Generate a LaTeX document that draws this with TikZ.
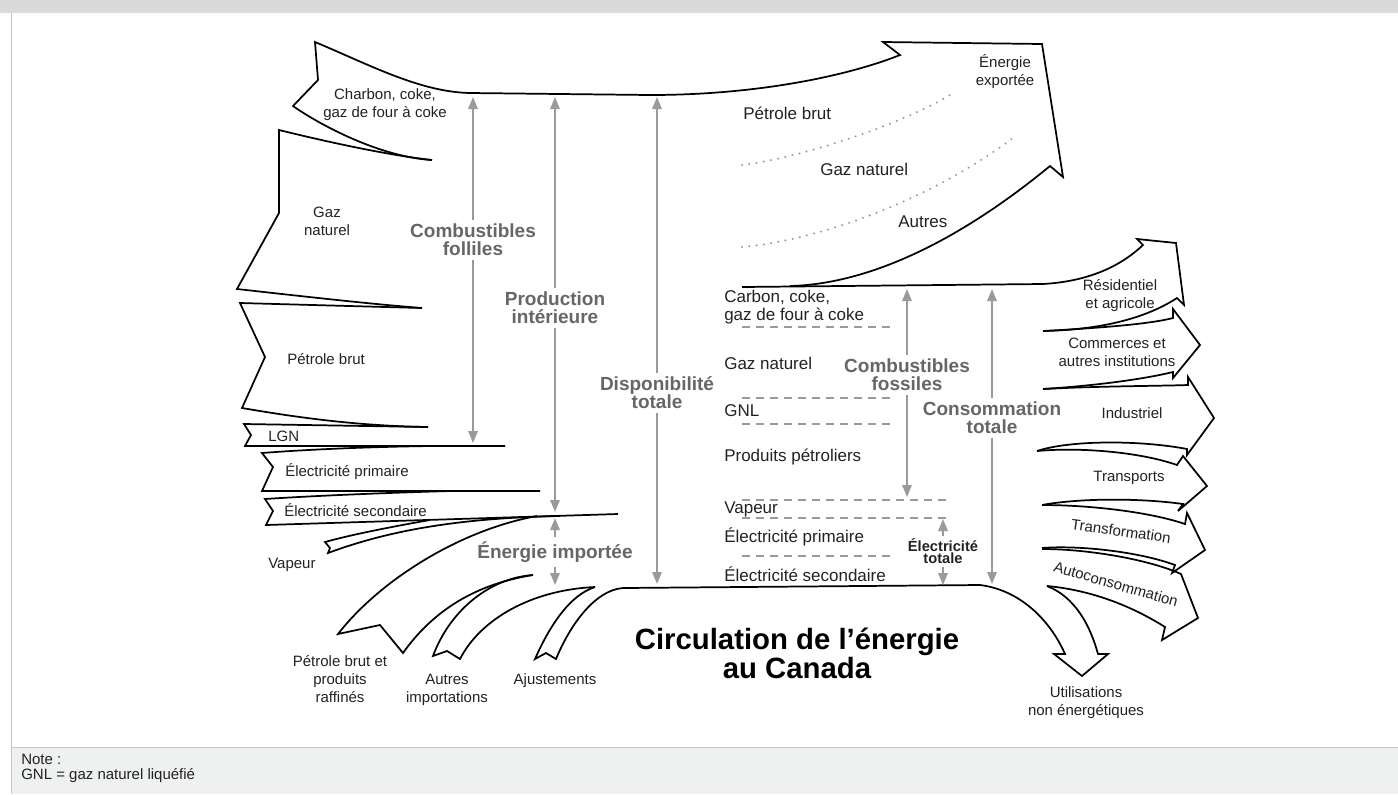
\documentclass[tikz,border=0pt]{standalone}
\usepackage{fontspec}
\setmainfont{Liberation Sans}
\usepackage{tikz}
\usetikzlibrary{arrows.meta,positioning,calc}
\definecolor{headgray}{HTML}{D9DADC}
\definecolor{footgray}{HTML}{EFF1F0}
\definecolor{framegray}{HTML}{C8C8C8}
\definecolor{dimgray}{HTML}{9A9A9A}
\definecolor{labgray}{HTML}{666666}
\definecolor{ink}{HTML}{222222}

\begin{document}
\begin{tikzpicture}[x=0.75pt,y=-0.75pt,>={Triangle[length=9pt,width=7pt]},
  flow/.style={draw=black,line width=1.3pt,line join=miter,miter limit=4},
  dim/.style={draw=dimgray,line width=1.5pt},
  sep/.style={draw=dimgray,line width=1.2pt,dash pattern=on 6pt off 4.5pt},
  dots/.style={draw=dimgray,line width=1.7pt,line cap=round,dash pattern=on 0pt off 5.5pt},
  lab/.style={text=ink,font=\fontsize{11.25}{13.5}\selectfont,align=center,inner sep=0pt},
  midlab/.style={text=ink,font=\fontsize{12.75}{13.5}\selectfont,anchor=west,align=left,inner sep=0pt},
  dimlab/.style={text=labgray,font=\bfseries\fontsize{14.25}{13.5}\selectfont,align=center,inner sep=3pt}]

    \useasboundingbox (0,0) rectangle (1398,794);
    \fill[white] (0,0) rectangle (1398,794);
    \fill[headgray] (0,0) rectangle (1398,13);
    \fill[footgray] (11,747) rectangle (1398,794);
    \draw[framegray] (11,13) -- (11,794);
    \draw[framegray] (11,747) -- (1398,747);

    \draw[flow] (432,160) .. controls (380,157) and (320,125) .. (293,106) -- (318,80) -- (315,42)
        .. controls (370,65) and (420,92) .. (470,93) -- (650,95) .. controls (760,95) and (850,75) .. (900,55)
        -- (883,42) -- (1042,44) -- (1063,177) -- (1050,166) .. controls (960,240) and (870,284) .. (790,286);
    \draw[flow] (432,160) .. controls (395,156) and (340,145) .. (279,130) -- (279,213) -- (237,289)
        .. controls (300,296) and (370,304) .. (422,308);
    \draw[flow] (422,308) -- (240,303) -- (265,357) -- (242,408) .. controls (300,418) and (360,426) .. (428,427);
    \draw[flow] (428,427) -- (244,424) -- (251,435) -- (245,446) -- (505,446);
    \draw[flow] (430,446) .. controls (360,447) and (300,450) .. (262,453) -- (273,467) -- (262,491) -- (540,491);
    \draw[flow] (450,491) .. controls (380,493) and (310,496) .. (265,499) -- (273,511) -- (266,525) -- (618,514);
    \draw[flow] (430,520) .. controls (390,527) and (350,535) .. (325,542) -- (330,548) -- (328,553)
        .. controls (390,530) and (460,518) .. (560,516);

    \draw[flow] (537,516) .. controls (460,530) and (380,580) .. (338,634) -- (380,625) -- (403,653)
        .. controls (430,615) and (470,585) .. (533,575);
    \draw[flow] (533,575) .. controls (490,578) and (450,610) .. (433,656) -- (447,651) -- (460,659)
        .. controls (480,620) and (530,590) .. (595,587);
    \draw[flow] (595,587) .. controls (570,595) and (550,625) .. (535,659) -- (546,653) -- (556,659)
        .. controls (570,625) and (595,590) .. (623,588) -- (980,585) .. controls (1020,590) and (1050,620) .. (1065,654)
        -- (1054,654) -- (1082,676) -- (1108,654) -- (1098,654) .. controls (1090,625) and (1075,597) .. (1047,586);

    \draw[flow] (1047,586) .. controls (1090,590) and (1130,605) .. (1165,627) -- (1162,640) -- (1198,618)
        -- (1181,574) .. controls (1150,560) and (1090,549) .. (1042,549);
    \draw[flow] (1042,548) .. controls (1080,545) and (1140,552) .. (1175,565) -- (1172,573) -- (1205,550)
        -- (1187,513) -- (1185,524) .. controls (1150,512) and (1090,505) .. (1042,505);
    \draw[flow] (1042,505) .. controls (1080,498) and (1140,498) .. (1183,504) -- (1178,511) -- (1207,486)
        -- (1183,456) -- (1177,465) .. controls (1140,452) and (1080,447) .. (1037,451);
    \draw[flow] (1037,451) .. controls (1070,440) and (1140,440) .. (1187,449) -- (1187,455) -- (1214,418)
        -- (1188,377) -- (1188,385) .. controls (1160,386) and (1100,386) .. (1043,389);
    \draw[flow] (1043,389) .. controls (1090,386) and (1140,380) .. (1173,372) -- (1173,378) -- (1200,345)
        -- (1173,309) -- (1173,318) .. controls (1150,324) and (1100,328) .. (1043,331);
    \draw[flow] (1043,331) .. controls (1090,330) and (1140,322) .. (1177,298) -- (1184,305) -- (1176,243)
        -- (1137,239) -- (1143,245) .. controls (1125,262) and (1095,281) .. (1043,284) -- (742,287);

    \draw[dots] (742,165) .. controls (800,158) and (900,125) .. (950,95);
    \draw[dots] (742,247) .. controls (820,240) and (930,200) .. (1013,138);

    \draw[sep] (742,327) -- (892,327);
    \draw[sep] (742,398) -- (892,398);
    \draw[sep] (742,424) -- (892,424);
    \draw[sep] (742,500) -- (950,500);
    \draw[sep] (742,518) -- (950,518);
    \draw[sep] (742,556) -- (892,556);

    \node[lab] (l1) at (385,105) {Charbon, coke,\\gaz de four à coke};
    \node[lab] (l2) at (327,221) {Gaz\\naturel};
    \node[lab,anchor=west] (l3) at (287,359) {Pétrole brut};
    \node[lab,anchor=west] (l4) at (268,436) {LGN};
    \node[lab,anchor=west] (l5) at (285,472) {Électricité primaire};
    \node[lab,anchor=west] (l6) at (284,510) {Électricité secondaire};
    \node[lab,anchor=west] (l7) at (268,565) {Vapeur};
    \node[lab] (l8) at (340,679) {Pétrole brut et\\produits\\raffinés};
    \node[lab] (l9) at (447,690) {Autres\\importations};
    \node[lab] (l10) at (555,681) {Ajustements};

    \node[midlab] (t1) at (743,113) {Pétrole brut};
    \node[midlab] (t2) at (820,169) {Gaz naturel};
    \node[midlab] (t3) at (898,222) {Autres};
    \node[lab] (t4) at (1005,72) {Énergie\\exportée};

    \node[midlab] (m1) at (724,307) {Carbon, coke,\\gaz de four à coke};
    \node[midlab] (m2) at (724,363) {Gaz naturel};
    \node[midlab] (m3) at (724,411) {GNL};
    \node[midlab] (m4) at (724,457) {Produits pétroliers};
    \node[midlab] (m5) at (724,509) {Vapeur};
    \node[midlab] (m6) at (724,537) {Électricité primaire};
    \node[midlab] (m7) at (724,574) {Électricité secondaire};

    \node[lab] (r1) at (1120,296) {Résidentiel\\et agricole};
    \node[lab] (r2) at (1117,352) {Commerces et\\autres institutions};
    \node[lab] (r3) at (1132,413) {Industriel};
    \node[lab] (r4) at (1129,478) {Transports};
    \node[lab,rotate=-8] (r5) at (1121,531) {Transformation};
    \node[lab,rotate=-16] (r6) at (1116,584) {Autoconsommation};
    \node[lab] (r7) at (1086,703) {Utilisations\\non énergétiques};

    \node[font=\bfseries\fontsize{22}{20}\selectfont,align=center,inner sep=0pt] (title) at (797,653) {Circulation de l’énergie\\au Canada};

    \node[dimlab] (d1) at (473,240) {Combustibles\\folliles};
    \node[dimlab] (d2) at (555,308) {Production\\intérieure};
    \node[dimlab] (d3) at (555,552) {Énergie importée};
    \node[dimlab] (d4) at (657,393) {Disponibilité\\totale};
    \node[dimlab] (d5) at (907,375) {Combustibles\\fossiles};
    \node[dimlab] (d6) at (992,418) {Consommation\\totale};
    \node[dimlab,text=ink,font=\bfseries\fontsize{11}{9}\selectfont,inner sep=2pt] (d7) at (943,551) {Électricité\\totale};

    \coordinate (d1a) at (473,97);
    \coordinate (d1b) at (473,443);
    \coordinate (d2a) at (555,97);
    \coordinate (d2b) at (555,512);
    \coordinate (d3a) at (555,518);
    \coordinate (d3b) at (555,585);
    \coordinate (d4a) at (657,97);
    \coordinate (d4b) at (657,584);
    \coordinate (d5a) at (907,289);
    \coordinate (d5b) at (907,497);
    \coordinate (d6a) at (992,289);
    \coordinate (d6b) at (992,584);
    \coordinate (d7a) at (943,519);
    \coordinate (d7b) at (943,585);

    \draw[dim,->] (d1) -- (d1a);
    \draw[dim,->] (d1) -- (d1b);
    \draw[dim,->] (d2) -- (d2a);
    \draw[dim,->] (d2) -- (d2b);
    \draw[dim,->] (d3) -- (d3a);
    \draw[dim,->] (d3) -- (d3b);
    \draw[dim,->] (d4) -- (d4a);
    \draw[dim,->] (d4) -- (d4b);
    \draw[dim,->] (d5) -- (d5a);
    \draw[dim,->] (d5) -- (d5b);
    \draw[dim,->] (d6) -- (d6a);
    \draw[dim,->] (d6) -- (d6b);
    \draw[dim,->] (d7) -- (d7a);
    \draw[dim,->] (d7) -- (d7b);

    \node[lab,anchor=west,text=ink] (n1) at (21,759) {Note :};
    \node[lab,anchor=west,text=ink] (n2) at (21,776) {GNL = gaz naturel liquéfié};
\end{tikzpicture}
\end{document}
